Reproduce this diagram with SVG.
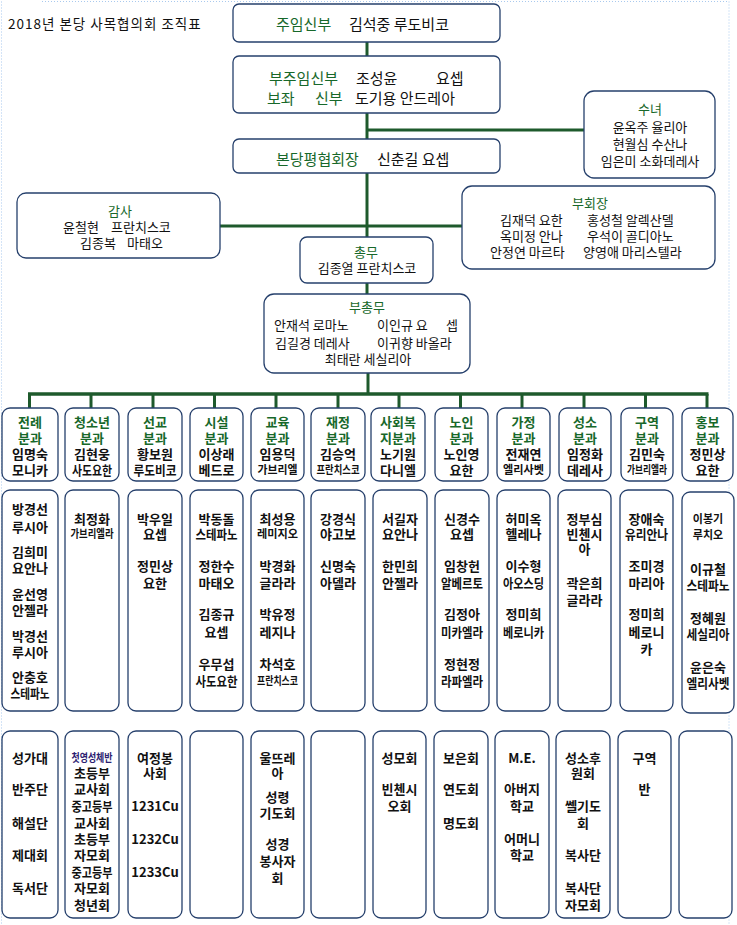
<svg xmlns="http://www.w3.org/2000/svg" width="737" height="925" viewBox="0 0 737 925">
<style>
.bg{fill:#ffffff}
.frame{fill:none;stroke:#a9c9ee;stroke-width:1;stroke-dasharray:1 2}
.box{fill:#ffffff;stroke:#26406c;stroke-width:1.3}
.conn{stroke:#1e5a2c;stroke-width:3;fill:none}
.t{font-family:"Noto Sans CJK KR","Noto Sans",sans-serif;dominant-baseline:central;font-size:13px}
.big{font-size:15px}
.g{fill:#17682a}
.k{fill:#111111}
.c{text-anchor:middle;font-weight:bold}
.m{text-anchor:middle}
.s{font-size:11px}
.p{fill:#2b2070}
.title{font-family:"Noto Sans CJK KR","Noto Sans",sans-serif;font-size:13.5px;letter-spacing:1px;fill:#111;dominant-baseline:central}
</style>
<rect class="bg" x="0" y="0" width="737" height="925"/>
<path class="frame" d="M42 1.5 H729 V925 M1.5 1.5 V925"/>
<text class="title" x="8" y="23">2018년 본당 사목협의회 조직표</text>

<g id="connectors">
<line class="conn" x1="367" y1="42" x2="367" y2="56"/>
<line class="conn" x1="367" y1="113" x2="367" y2="139"/>
<line class="conn" x1="367" y1="130" x2="584" y2="130"/>
<line class="conn" x1="367" y1="173" x2="367" y2="237"/>
<line class="conn" x1="220" y1="226" x2="462" y2="226"/>
<line class="conn" x1="367" y1="283" x2="367" y2="294"/>
<line class="conn" x1="368" y1="373" x2="368" y2="394"/>
<line class="conn" x1="28" y1="394" x2="708.5" y2="394" style="stroke-width:3.5"/>
<line class="conn" x1="29.5" y1="394" x2="29.5" y2="408"/>
<line class="conn" x1="91" y1="394" x2="91" y2="408"/>
<line class="conn" x1="153" y1="394" x2="153" y2="408"/>
<line class="conn" x1="214.5" y1="394" x2="214.5" y2="408"/>
<line class="conn" x1="276" y1="394" x2="276" y2="408"/>
<line class="conn" x1="338" y1="394" x2="338" y2="408"/>
<line class="conn" x1="399" y1="394" x2="399" y2="408"/>
<line class="conn" x1="460.5" y1="394" x2="460.5" y2="408"/>
<line class="conn" x1="522" y1="394" x2="522" y2="408"/>
<line class="conn" x1="584" y1="394" x2="584" y2="408"/>
<line class="conn" x1="645.5" y1="394" x2="645.5" y2="408"/>
<line class="conn" x1="707" y1="394" x2="707" y2="408"/>
</g>

<g id="pastor">
<rect class="box" x="233" y="4" width="267" height="38" rx="6"/>
<text class="t big" x="276" y="23"><tspan class="g">주임신부</tspan><tspan class="k" x="349">김석중 루도비코</tspan></text>
</g>

<g id="assistant">
<rect class="box" x="233" y="56" width="267" height="57" rx="6"/>
<text class="t big" x="269" y="77"><tspan class="g">부주임신부</tspan><tspan class="k" x="356">조성윤</tspan><tspan class="k" x="436">요셉</tspan><tspan class="g" x="267" y="97">보좌</tspan><tspan class="g" x="315" y="97">신부</tspan><tspan class="k" x="355" y="97">도기용 안드레아</tspan></text>
</g>

<g id="sisters">
<rect class="box" x="584" y="91" width="131" height="87" rx="10"/>
<text class="t m" x="650" y="108"><tspan class="g">수녀</tspan><tspan class="k" x="650" y="126">윤옥주 율리아</tspan><tspan class="k" x="650" y="143">현월심 수산나</tspan><tspan class="k" x="650" y="160">임은미 소화데레사</tspan></text>
</g>

<g id="president">
<rect class="box" x="233" y="139" width="267" height="34" rx="6"/>
<text class="t big" x="276" y="158"><tspan class="g">본당평협회장</tspan><tspan class="k" x="377">신춘길 요셉</tspan></text>
</g>

<g id="auditor">
<rect class="box" x="17" y="193" width="203" height="65" rx="9"/>
<text class="t" x="120" y="210"><tspan class="g m">감사</tspan><tspan class="k" x="63" y="226">윤철현</tspan><tspan class="k" x="111" y="226">프란치스코</tspan><tspan class="k" x="80" y="242">김종복</tspan><tspan class="k" x="127" y="242">마태오</tspan></text>
</g>

<g id="vicepresidents">
<rect class="box" x="462" y="186" width="253" height="83" rx="10"/>
<text class="t" x="590" y="202"><tspan class="g m">부회장</tspan><tspan class="k" x="500" y="219">김재덕 요한</tspan><tspan class="k" x="587" y="219">홍성철 알렉산델</tspan><tspan class="k" x="500" y="235">옥미정 안나</tspan><tspan class="k" x="587" y="235">우석이 골디아노</tspan><tspan class="k" x="490" y="251">안정연 마르타</tspan><tspan class="k" x="583" y="251">양영애 마리스텔라</tspan></text>
</g>

<g id="secretary">
<rect class="box" x="300" y="237" width="133" height="46" rx="7"/>
<text class="t m" x="366" y="251"><tspan class="g">총무</tspan><tspan class="k" x="367" y="267">김종열 프란치스코</tspan></text>
</g>

<g id="vicesecretary">
<rect class="box" x="264" y="294" width="206" height="79" rx="10"/>
<text class="t" x="367" y="306"><tspan class="g m">부총무</tspan><tspan class="k" x="274" y="324">안재석 로마노</tspan><tspan class="k" x="377" y="324">이인규 요</tspan><tspan class="k" x="446" y="324">셉</tspan><tspan class="k" x="275" y="342">김길경 데레사</tspan><tspan class="k" x="377" y="342">이귀향 바올라</tspan><tspan class="k m" x="368" y="358">최태란 세실리아</tspan></text>
</g>

<g id="col-liturgy">
<rect class="box" x="2" y="408" width="56" height="73" rx="8"/>
<text class="t c" x="30" y="421"><tspan class="g">전례</tspan><tspan class="g" x="30" y="437">분과</tspan><tspan class="k" x="30" y="453">임명숙</tspan><tspan class="k" x="30" y="469">모니카</tspan></text>
<rect class="box" x="2" y="490" width="56" height="221" rx="8"/>
<text class="t c k" x="30" y="508">방경선<tspan x="30" y="525.5">루시아</tspan><tspan x="30" y="551">김희미</tspan><tspan x="30" y="567">요안나</tspan><tspan x="30" y="593">윤선영</tspan><tspan x="30" y="609">안젤라</tspan><tspan x="30" y="635">박경선</tspan><tspan x="30" y="651">루시아</tspan><tspan x="30" y="676">안충호</tspan><tspan x="30" y="692" textLength="39" lengthAdjust="spacingAndGlyphs">스테파노</tspan></text>
<rect class="box" x="2" y="731" width="56" height="187" rx="8"/>
<text class="t c k" x="30" y="757">성가대<tspan x="30" y="788">반주단</tspan><tspan x="30" y="822">해설단</tspan><tspan x="30" y="854">제대회</tspan><tspan x="30" y="887">독서단</tspan></text>
</g>

<g id="col-youth">
<rect class="box" x="65" y="408" width="54" height="73" rx="8"/>
<text class="t c" x="92" y="421"><tspan class="g">청소년</tspan><tspan class="g" x="92" y="437">분과</tspan><tspan class="k" x="92" y="453">김현웅</tspan><tspan class="k" x="92" y="469" textLength="40" lengthAdjust="spacingAndGlyphs">사도요한</tspan></text>
<rect class="box" x="65" y="490" width="54" height="221" rx="8"/>
<text class="t c k" x="92" y="518">최정화<tspan class="s" x="92" y="533" textLength="43" lengthAdjust="spacingAndGlyphs">가브리엘라</tspan></text>
<rect class="box" x="65" y="731" width="54" height="187" rx="8"/>
<text class="t c k" x="92" y="757"><tspan class="p s" textLength="41" lengthAdjust="spacingAndGlyphs">첫영성체반</tspan><tspan x="92" y="772">초등부</tspan><tspan x="92" y="788">교사회</tspan><tspan x="92" y="805" textLength="41" lengthAdjust="spacingAndGlyphs">중고등부</tspan><tspan x="92" y="822">교사회</tspan><tspan x="92" y="838">초등부</tspan><tspan x="92" y="854">자모회</tspan><tspan x="92" y="871" textLength="41" lengthAdjust="spacingAndGlyphs">중고등부</tspan><tspan x="92" y="887">자모회</tspan><tspan x="92" y="904">청년회</tspan></text>
</g>

<g id="col-mission">
<rect class="box" x="128" y="408" width="54" height="73" rx="8"/>
<text class="t c" x="155" y="421"><tspan class="g">선교</tspan><tspan class="g" x="155" y="437">분과</tspan><tspan class="k" x="155" y="453">황보원</tspan><tspan class="k" x="155" y="469" textLength="43" lengthAdjust="spacingAndGlyphs">루도비코</tspan></text>
<rect class="box" x="128" y="490" width="54" height="221" rx="8"/>
<text class="t c k" x="155" y="518">박우일<tspan x="155" y="533">요셉</tspan><tspan x="155" y="565">정민상</tspan><tspan x="155" y="582">요한</tspan></text>
<rect class="box" x="128" y="731" width="54" height="187" rx="8"/>
<text class="t c k" x="155" y="757">여정봉<tspan x="155" y="772">사회</tspan><tspan x="155" y="805">1231Cu</tspan><tspan x="155" y="838">1232Cu</tspan><tspan x="155" y="871">1233Cu</tspan></text>
</g>

<g id="col-facilities">
<rect class="box" x="190" y="408" width="53" height="73" rx="8"/>
<text class="t c" x="216.5" y="421"><tspan class="g">시설</tspan><tspan class="g" x="216.5" y="437">분과</tspan><tspan class="k" x="216.5" y="453">이상래</tspan><tspan class="k" x="216.5" y="469">베드로</tspan></text>
<rect class="box" x="190" y="490" width="53" height="221" rx="8"/>
<text class="t c k" x="216.5" y="518">박동돌<tspan x="216.5" y="533" textLength="42" lengthAdjust="spacingAndGlyphs">스테파노</tspan><tspan x="216.5" y="565">정한수</tspan><tspan x="216.5" y="582">마태오</tspan><tspan x="216.5" y="613">김종규</tspan><tspan x="216.5" y="631">요셉</tspan><tspan x="216.5" y="663">우무섭</tspan><tspan x="216.5" y="680" textLength="42" lengthAdjust="spacingAndGlyphs">사도요한</tspan></text>
<rect class="box" x="190" y="731" width="53" height="187" rx="8"/>
</g>

<g id="col-education">
<rect class="box" x="251" y="408" width="53" height="73" rx="8"/>
<text class="t c" x="277.5" y="421"><tspan class="g">교육</tspan><tspan class="g" x="277.5" y="437">분과</tspan><tspan class="k" x="277.5" y="453">임용덕</tspan><tspan class="k s" x="277.5" y="469" textLength="40" lengthAdjust="spacingAndGlyphs">가브리엘</tspan></text>
<rect class="box" x="251" y="490" width="53" height="221" rx="8"/>
<text class="t c k" x="277.5" y="518">최성용<tspan class="s" x="277.5" y="533" textLength="41" lengthAdjust="spacingAndGlyphs">레미지오</tspan><tspan x="277.5" y="565">박경화</tspan><tspan x="277.5" y="582">글라라</tspan><tspan x="277.5" y="613">박유정</tspan><tspan x="277.5" y="631">레지나</tspan><tspan x="277.5" y="663">차석호</tspan><tspan class="s" x="277.5" y="680" textLength="41" lengthAdjust="spacingAndGlyphs">프란치스코</tspan></text>
<rect class="box" x="251" y="731" width="53" height="187" rx="8"/>
<text class="t c k" x="277.5" y="757">울뜨레<tspan x="277.5" y="772">아</tspan><tspan x="277.5" y="796">성령</tspan><tspan x="277.5" y="812">기도회</tspan><tspan x="277.5" y="843">성경</tspan><tspan x="277.5" y="860">봉사자</tspan><tspan x="277.5" y="877">회</tspan></text>
</g>

<g id="col-finance">
<rect class="box" x="311" y="408" width="54" height="73" rx="8"/>
<text class="t c" x="338" y="421"><tspan class="g">재정</tspan><tspan class="g" x="338" y="437">분과</tspan><tspan class="k" x="338" y="453">김승억</tspan><tspan class="k s" x="338" y="469" textLength="43" lengthAdjust="spacingAndGlyphs">프란치스코</tspan></text>
<rect class="box" x="311" y="490" width="54" height="221" rx="8"/>
<text class="t c k" x="338" y="518">강경식<tspan x="338" y="533">야고보</tspan><tspan x="338" y="565">신명숙</tspan><tspan x="338" y="582">아델라</tspan></text>
<rect class="box" x="311" y="731" width="54" height="187" rx="8"/>
</g>

<g id="col-welfare">
<rect class="box" x="371" y="408" width="54" height="73" rx="8"/>
<text class="t c" x="398" y="421"><tspan class="g">사회복</tspan><tspan class="g" x="398" y="437">지분과</tspan><tspan class="k" x="398" y="453">노기원</tspan><tspan class="k" x="398" y="469">다니엘</tspan></text>
<rect class="box" x="373" y="490" width="54" height="221" rx="8"/>
<text class="t c k" x="400" y="518">서길자<tspan x="400" y="533">요안나</tspan><tspan x="400" y="565">한민희</tspan><tspan x="400" y="582">안젤라</tspan></text>
<rect class="box" x="373" y="731" width="53" height="187" rx="8"/>
<text class="t c k" x="399.5" y="757">성모회<tspan x="399.5" y="788">빈첸시</tspan><tspan x="399.5" y="805">오회</tspan></text>
</g>

<g id="col-elderly">
<rect class="box" x="435" y="408" width="53" height="73" rx="8"/>
<text class="t c" x="461.5" y="421"><tspan class="g">노인</tspan><tspan class="g" x="461.5" y="437">분과</tspan><tspan class="k" x="461.5" y="453">노인영</tspan><tspan class="k" x="461.5" y="469">요한</tspan></text>
<rect class="box" x="435" y="490" width="54" height="221" rx="8"/>
<text class="t c k" x="462" y="518">신경수<tspan x="462" y="533">요셉</tspan><tspan x="462" y="565">임창헌</tspan><tspan x="462" y="582" textLength="42" lengthAdjust="spacingAndGlyphs">알베르토</tspan><tspan x="462" y="613">김정아</tspan><tspan x="462" y="631" textLength="42" lengthAdjust="spacingAndGlyphs">미카엘라</tspan><tspan x="462" y="663">정현정</tspan><tspan x="462" y="680" textLength="42" lengthAdjust="spacingAndGlyphs">라파엘라</tspan></text>
<rect class="box" x="434" y="731" width="54" height="187" rx="8"/>
<text class="t c k" x="461" y="757">보은회<tspan x="461" y="788">연도회</tspan><tspan x="461" y="822">명도회</tspan></text>
</g>

<g id="col-family">
<rect class="box" x="497" y="408" width="53" height="73" rx="8"/>
<text class="t c" x="523.5" y="421"><tspan class="g">가정</tspan><tspan class="g" x="523.5" y="437">분과</tspan><tspan class="k" x="523.5" y="453">전재연</tspan><tspan class="k s" x="523.5" y="469" textLength="41" lengthAdjust="spacingAndGlyphs">엘리사벳</tspan></text>
<rect class="box" x="497" y="490" width="53" height="221" rx="8"/>
<text class="t c k" x="523.5" y="518">허미옥<tspan x="523.5" y="533">헬레나</tspan><tspan x="523.5" y="565">이수형</tspan><tspan x="523.5" y="582" textLength="41" lengthAdjust="spacingAndGlyphs">아오스딩</tspan><tspan x="523.5" y="613">정미희</tspan><tspan x="523.5" y="631" textLength="41" lengthAdjust="spacingAndGlyphs">베로니카</tspan></text>
<rect class="box" x="495" y="731" width="54" height="187" rx="8"/>
<text class="t c k" x="522" y="757">M.E.<tspan x="522" y="788">아버지</tspan><tspan x="522" y="805">학교</tspan><tspan x="522" y="838">어머니</tspan><tspan x="522" y="854">학교</tspan></text>
</g>

<g id="col-vocation">
<rect class="box" x="559" y="408" width="52" height="73" rx="8"/>
<text class="t c" x="585" y="421"><tspan class="g">성소</tspan><tspan class="g" x="585" y="437">분과</tspan><tspan class="k" x="585" y="453">임정화</tspan><tspan class="k" x="585" y="469">데레사</tspan></text>
<rect class="box" x="558" y="490" width="53" height="221" rx="8"/>
<text class="t c k" x="584.5" y="518">정부심<tspan x="584.5" y="533">빈첸시</tspan><tspan x="584.5" y="548">아</tspan><tspan x="584.5" y="582">곽은희</tspan><tspan x="584.5" y="599">글라라</tspan></text>
<rect class="box" x="556" y="731" width="54" height="187" rx="8"/>
<text class="t c k" x="583" y="757">성소후<tspan x="583" y="772">원회</tspan><tspan x="583" y="805">쎌기도</tspan><tspan x="583" y="822">회</tspan><tspan x="583" y="854">복사단</tspan><tspan x="583" y="887">복사단</tspan><tspan x="583" y="904">자모회</tspan></text>
</g>

<g id="col-district">
<rect class="box" x="621" y="408" width="52" height="73" rx="8"/>
<text class="t c" x="647" y="421"><tspan class="g">구역</tspan><tspan class="g" x="647" y="437">분과</tspan><tspan class="k" x="647" y="453">김민숙</tspan><tspan class="k s" x="647" y="469" textLength="40" lengthAdjust="spacingAndGlyphs">가브리엘라</tspan></text>
<rect class="box" x="620" y="490" width="53" height="221" rx="8"/>
<text class="t c k" x="646.5" y="518">장애숙<tspan x="646.5" y="533" textLength="43" lengthAdjust="spacingAndGlyphs">유리안나</tspan><tspan x="646.5" y="565">조미경</tspan><tspan x="646.5" y="582">마리아</tspan><tspan x="646.5" y="613">정미희</tspan><tspan x="646.5" y="631">베로니</tspan><tspan x="646.5" y="648">카</tspan></text>
<rect class="box" x="618" y="731" width="53" height="187" rx="8"/>
<text class="t c k" x="644.5" y="757">구역<tspan x="644.5" y="788">반</tspan></text>
</g>

<g id="col-pr">
<rect class="box" x="682" y="408" width="51" height="73" rx="8"/>
<text class="t c" x="707.5" y="421"><tspan class="g">홍보</tspan><tspan class="g" x="707.5" y="437">분과</tspan><tspan class="k" x="707.5" y="453">정민상</tspan><tspan class="k" x="707.5" y="469">요한</tspan></text>
<rect class="box" x="682" y="492" width="52" height="221" rx="8"/>
<text class="t c k" x="708" y="518"><tspan class="s">이봉기</tspan><tspan class="s" x="708" y="534">루치오</tspan><tspan x="708" y="568">이규철</tspan><tspan x="708" y="584" textLength="43" lengthAdjust="spacingAndGlyphs">스테파노</tspan><tspan x="708" y="617">정혜원</tspan><tspan x="708" y="633" textLength="43" lengthAdjust="spacingAndGlyphs">세실리아</tspan><tspan x="708" y="666">윤은숙</tspan><tspan x="708" y="682" textLength="43" lengthAdjust="spacingAndGlyphs">엘리사벳</tspan></text>
<rect class="box" x="679" y="731" width="53" height="187" rx="8"/>
</g>
</svg>
